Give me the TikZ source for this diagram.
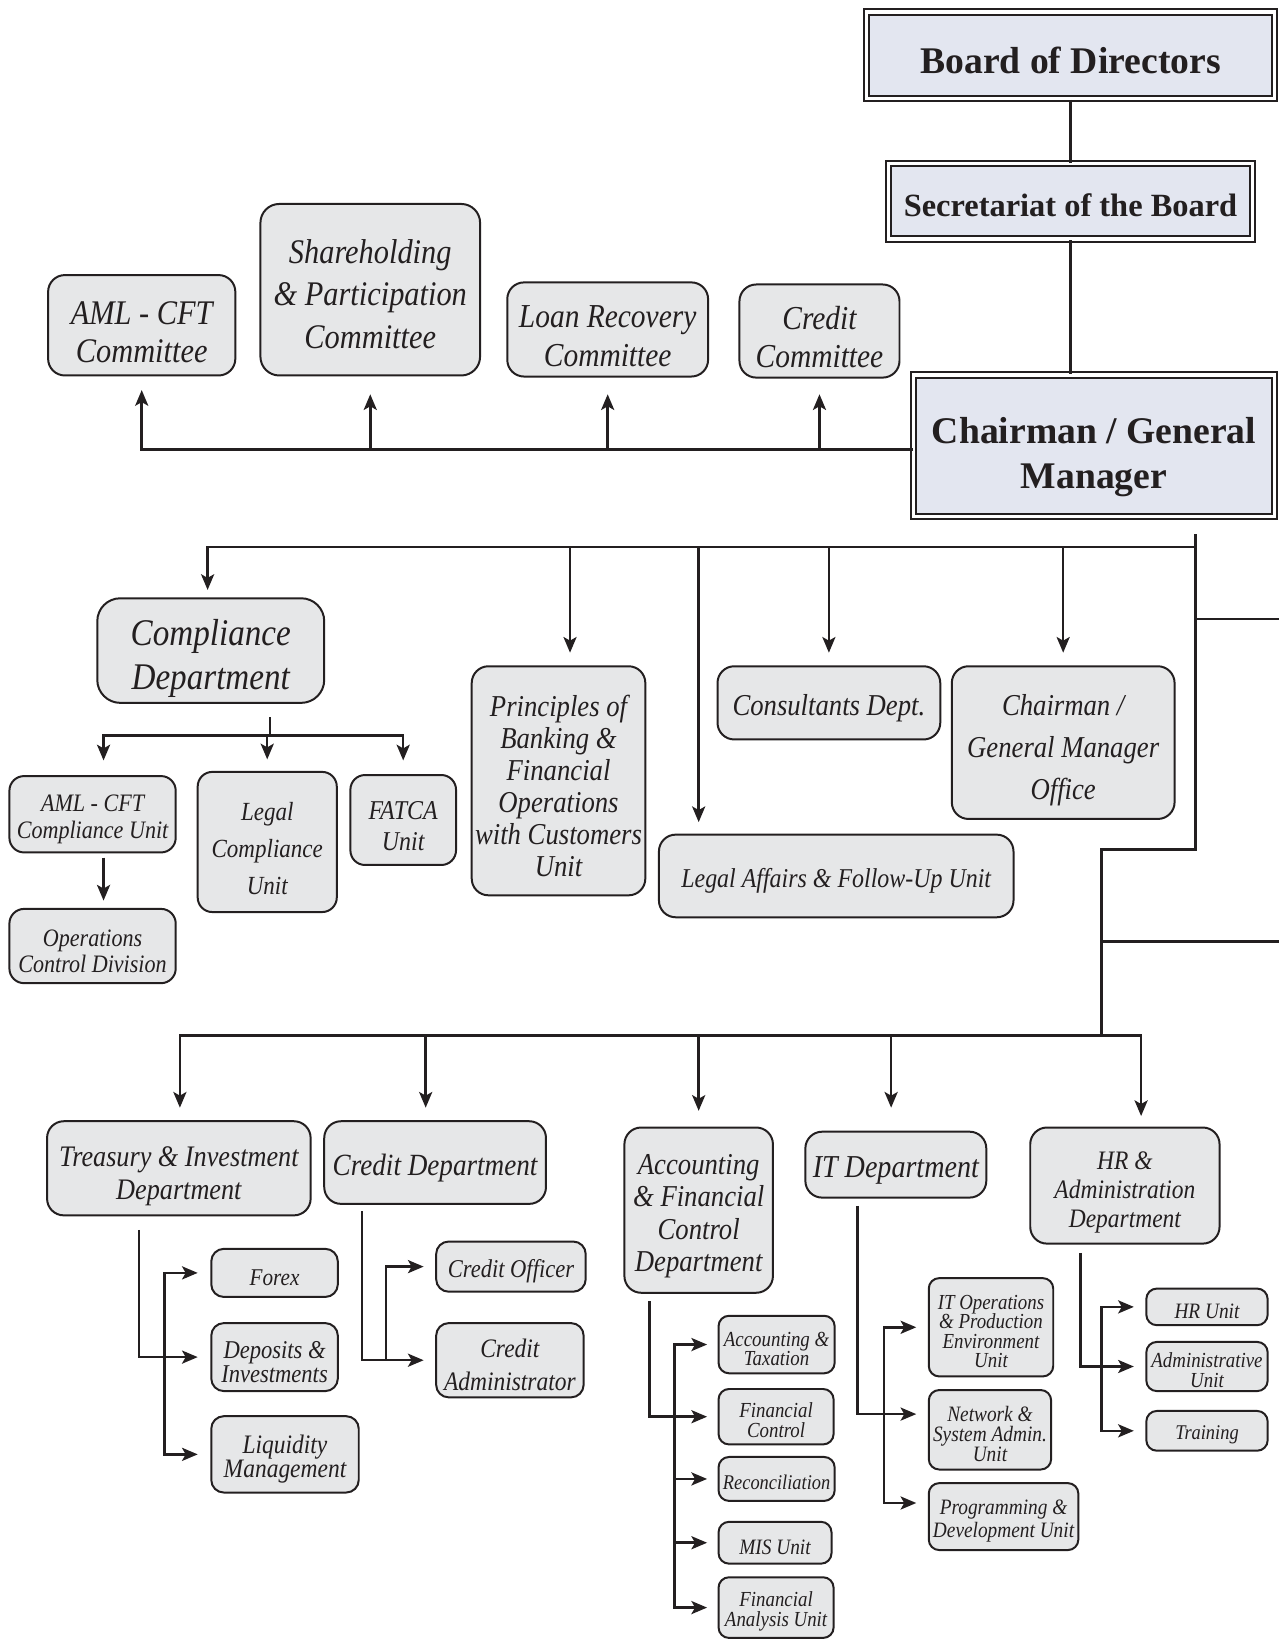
\documentclass[tikz,border=0pt]{standalone}
\usepackage{fontspec}
\setmainfont{Liberation Serif}
\newfontfamily\garit{Liberation Serif}[FakeStretch=0.88]
\usetikzlibrary{arrows.meta}
\definecolor{topfill}{RGB}{227,230,240}
\definecolor{boxfill}{RGB}{230,231,232}
\definecolor{ink}{RGB}{35,31,32}
\newcommand\fsz[2]{\fontsize{#1pt}{#2pt}\selectfont}
\newcommand\hd[1][1.05em]{\rule{0pt}{#1}}
\tikzset{
 topbox/.style={draw=ink, line width=2pt, double=white, double distance=3pt, fill=topfill, inner sep=0pt, align=center, text=ink},
 ubox/.style={draw=ink, line width=1.9pt, fill=boxfill, rounded corners=#1, inner sep=0pt, align=center, text=ink},
 ubox/.default=14pt,
 lift/.style={execute at begin node={\rule{0pt}{#1}}},
 it/.style 2 args={font=\garit\itshape\fsz{#1}{#2}, lift=1.05em},
 ln/.style={draw=ink, line width=2.4pt},
 tip/.tip={Stealth[length=15pt,width=12.5pt,inset=3.5pt]},
 arr/.style={ln, -tip},
 arrs/.style={ln, tip-tip},
}
\begin{document}
\begin{tikzpicture}[x=1pt,y=-1pt]
\useasboundingbox (0,0) rectangle (1223,1568);
% top hierarchy
\node[topbox, minimum width=390pt, minimum height=83pt, font=\bfseries\fsz{36}{40}, lift=0.95em] (board) at (1023.5,53) {Board of Directors};
\node[topbox, minimum width=348pt, minimum height=72pt, font=\bfseries\fsz{31}{36}, lift=0.97em] (secr) at (1023.5,192.5) {Secretariat of the Board};
\node[topbox, minimum width=345pt, minimum height=135pt, font=\bfseries\fsz{36}{43}] (chair) at (1046,426) {\hd[1.3em]Chairman / General\\Manager};
% committees
\node[ubox=16pt, it={33}{36}, minimum width=179pt, minimum height=96pt] (amlc) at (135.5,311) {\hd AML - CFT\\Committee};
\node[ubox=18pt, it={33}{41}, minimum width=210pt, minimum height=164pt] (share) at (354,277) {\hd[0.95em]Shareholding\\\& Participation\\Committee};
\node[ubox=16pt, it={32}{37}, minimum width=192pt, minimum height=90pt] (loan) at (581,315) {\hd Loan Recovery\\Committee};
\node[ubox=16pt, it={32}{37}, minimum width=153pt, minimum height=89pt] (credc) at (783.5,316.5) {\hd Credit\\Committee};
% middle level
\node[ubox=22pt, it={36}{42}, minimum width=217pt, minimum height=100pt] (comp) at (201.5,622) {\hd[1.1em]Compliance\\Department};
\node[ubox=16pt, it={29}{30.6}, minimum width=166pt, minimum height=219pt] (princ) at (534,746.5) {\hd Principles of\\Banking \&\\Financial\\Operations\\with Customers\\Unit};
\node[ubox=16pt, it={29}{34}, minimum width=213pt, minimum height=70pt] (consult) at (792.5,672) {Consultants Dept.};
\node[ubox=16pt, it={29}{40.5}, minimum width=213pt, minimum height=146pt] (gmo) at (1016.5,710) {\hd[1.2em]Chairman /\\General Manager\\Office};
\node[ubox=16pt, it={26}{30}, minimum width=339pt, minimum height=79pt] (legal) at (799.5,837.5) {Legal Affairs \& Follow-Up Unit};
\node[ubox=14pt, it={24}{26}, minimum width=159pt, minimum height=73pt] (amlu) at (88.5,778.5) {\hd AML - CFT\\Compliance Unit};
\node[ubox=14pt, it={24}{25}, minimum width=159pt, minimum height=71pt] (ocd) at (88.5,904.5) {\hd Operations\\Control Division};
\node[ubox=14pt, it={25}{35.5}, minimum width=133pt, minimum height=134pt] (lcu) at (255.5,805) {\hd[1.2em]Legal\\Compliance\\Unit};
\node[ubox=14pt, it={26}{30}, minimum width=101pt, minimum height=86pt] (fatca) at (385.5,784) {\hd[1.1em]FATCA\\Unit};
% bottom level
\node[ubox=16pt, it={28.5}{31}, minimum width=252pt, minimum height=90pt] (treas) at (171,1117) {\hd[1.2em]Treasury \& Investment\\Department};
\node[ubox=16pt, it={29.5}{34}, minimum width=212pt, minimum height=79pt] (credd) at (416,1111.5) {Credit Department};
\node[ubox=16pt, it={29}{31}, minimum width=142pt, minimum height=158pt] (acc) at (668,1157) {\hd Accounting\\\& Financial\\Control\\Department};
\node[ubox=16pt, it={30.5}{34}, minimum width=173pt, minimum height=63pt] (itd) at (856.5,1113.5) {IT Department};
\node[ubox=16pt, it={25.5}{27.5}, minimum width=181pt, minimum height=111pt] (hr) at (1075.5,1133.5) {\hd[1.2em]HR \&\\Administration\\Department};
\node[ubox=12pt, it={23}{26}, minimum width=121pt, minimum height=46pt] (forex) at (262.5,1217) {Forex};
\node[ubox=12pt, it={24.5}{23}, minimum width=121pt, minimum height=65pt] (dep) at (262.5,1297.5) {\hd Deposits \&\\Investments};
\node[ubox=12pt, it={25.5}{22.5}, minimum width=141pt, minimum height=73pt] (liq) at (272.5,1390.5) {\hd Liquidity\\Management};
\node[ubox=12pt, it={24.5}{26}, minimum width=143pt, minimum height=48pt] (credoff) at (488.5,1211) {Credit Officer};
\node[ubox=12pt, it={25.5}{32}, minimum width=141pt, minimum height=71pt] (credadm) at (487.5,1300.5) {\hd Credit\\Administrator};
\node[ubox=10pt, it={20.5}{18}, minimum width=111pt, minimum height=55pt] (acctax) at (742.5,1285.5) {\hd Accounting \&\\Taxation};
\node[ubox=10pt, it={20.5}{19}, minimum width=110pt, minimum height=53pt] (fincon) at (742,1354.5) {\hd Financial\\Control};
\node[ubox=10pt, it={20}{22}, minimum width=111pt, minimum height=42pt] (recon) at (742.5,1414) {Reconciliation};
\node[ubox=10pt, it={21}{24}, minimum width=108pt, minimum height=40pt] (mis) at (741,1475) {MIS Unit};
\node[ubox=10pt, it={20.5}{19}, minimum width=110pt, minimum height=58pt] (finan) at (742,1537) {\hd Financial\\Analysis Unit};
\node[ubox=10pt, it={20.5}{18.7}, minimum width=119pt, minimum height=94pt] (itops) at (947.5,1269) {\hd IT Operations\\\& Production\\Environment\\Unit};
\node[ubox=10pt, it={21}{19}, minimum width=117pt, minimum height=76pt] (net) at (946.5,1367) {\hd Network \&\\System Admin.\\Unit};
\node[ubox=10pt, it={21}{22}, minimum width=143pt, minimum height=64pt] (prog) at (959.5,1450) {\hd Programming \&\\Development Unit};
\node[ubox=10pt, it={21}{24}, minimum width=116pt, minimum height=35pt] (hru) at (1154,1249.5) {HR Unit};
\node[ubox=10pt, it={20.5}{19}, minimum width=116pt, minimum height=47pt] (admu) at (1154,1306.5) {\hd Administrative\\Unit};
\node[ubox=10pt, it={20}{24}, minimum width=116pt, minimum height=38pt] (train) at (1154,1368) {Training};
% bus coordinates
\coordinate (cb) at (0,430);
\coordinate (mb) at (1143,523);
\coordinate (t0) at (1143,511);
\coordinate (t1) at (1143,812);
\coordinate (t2) at (1053,812);
\coordinate (t3) at (1053,990);
\coordinate (cb2) at (0,703);
\coordinate (e1) at (1223,592);
\coordinate (e2) at (1223,900);
% top connectors
\draw[ln] (board) -- (secr);
\draw[ln] (secr.south) -- (secr.south |- chair.north);
% committees
\draw[arr, shorten >=13pt] (chair.west |- cb) -| (amlc.south);
\draw[arr, shorten >=17pt] (share.south |- cb) -- (share.south);
\draw[arr, shorten >=16pt] (loan.south |- cb) -- (loan.south);
\draw[arr, shorten >=15pt] (credc.south |- cb) -- (credc.south);
% middle
\draw[arr, shorten >=7pt] (mb) -| ([xshift=-3pt]comp.north);
\draw[arr, shorten >=12pt] ([xshift=11pt]princ.north |- mb) -- ([xshift=11pt]princ.north);
\draw[arr, shorten >=11pt] ([xshift=-131.5pt]legal.north |- mb) -- ([xshift=-131.5pt]legal.north);
\draw[arr, shorten >=12pt] (consult.north |- mb) -- (consult.north);
\draw[arr, shorten >=12pt] (gmo.north |- mb) -- (gmo.north);
\draw[ln] (t1 |- e1) -- (e1);
\draw[ln] (t2 |- e2) -- (e2);
% compliance subtree
\draw[ln, shorten <=13pt] ([xshift=56.5pt]comp.south) -- ([xshift=56.5pt]comp.south |- cb2);
\draw[arrs, shorten <=14pt, shorten >=13pt] ([xshift=10.5pt]amlu.north) -- ([xshift=10.5pt]amlu.north |- cb2) -| (fatca.north);
\draw[arr, shorten >=11pt] (lcu.north |- cb2) -- (lcu.north);
\draw[arr, shorten <=4pt, shorten >=7pt] ([xshift=10.5pt]amlu.south) -- ([xshift=10.5pt]ocd.north);
% trunk to bottom level
\draw[ln, line join=miter] (t0) -- (t1) -- (t2) -- (t3);
\draw[arrs, shorten <=12pt, shorten >=10pt] ([xshift=1pt]treas.north) |- (t3) -| ([xshift=15.5pt]hr.north);
\draw[arr, shorten >=12pt] ([xshift=-9pt]credd.north |- t3) -- ([xshift=-9pt]credd.north);
\draw[arr, shorten >=15pt] (acc.north |- t3) -- (acc.north);
\draw[arr, shorten >=22pt] ([xshift=-4.5pt]itd.north |- t3) -- ([xshift=-4.5pt]itd.north);
% treasury subtree
\draw[arr, shorten <=13pt, shorten >=12pt] ([xshift=-38pt]treas.south) |- (dep.west);
\draw[arrs, shorten <=12pt, shorten >=12pt] (forex.west) -- ([xshift=-44pt]forex.west) |- (liq.west);
% credit subtree
\draw[arr, shorten <=6pt, shorten >=11pt] ([xshift=-70pt]credd.south) |- (credadm.west);
\draw[arr, shorten >=11pt] ([xshift=-47pt]credoff.west |- credadm.west) |- (credoff.west);
% accounting subtree
\draw[arr, shorten <=7pt, shorten >=10pt] ([xshift=-47pt]acc.south) |- (fincon.west);
\draw[arrs, shorten <=10pt, shorten >=10pt] (acctax.west) -- ([xshift=-41pt]acctax.west) |- (finan.west);
\draw[arr, shorten >=10pt] ([xshift=-41pt]recon.west) -- (recon.west);
\draw[arr, shorten >=10pt] ([xshift=-41pt]mis.west) -- (mis.west);
% IT subtree
\draw[arr, shorten <=7pt, shorten >=11pt] ([xshift=-36.5pt]itd.south) |- ([yshift=15pt]net.west);
\draw[arrs, shorten <=11pt, shorten >=11pt] (itops.west) -- ([xshift=-42pt]itops.west) |- ([yshift=13pt]prog.west);
% HR subtree
\draw[arr, shorten <=8pt, shorten >=11pt] ([xshift=-42.5pt]hr.south) |- (admu.west);
\draw[arrs, shorten <=11pt, shorten >=11pt] (hru.west) -- ([xshift=-42pt]hru.west) |- (train.west);
\end{tikzpicture}
\end{document}
